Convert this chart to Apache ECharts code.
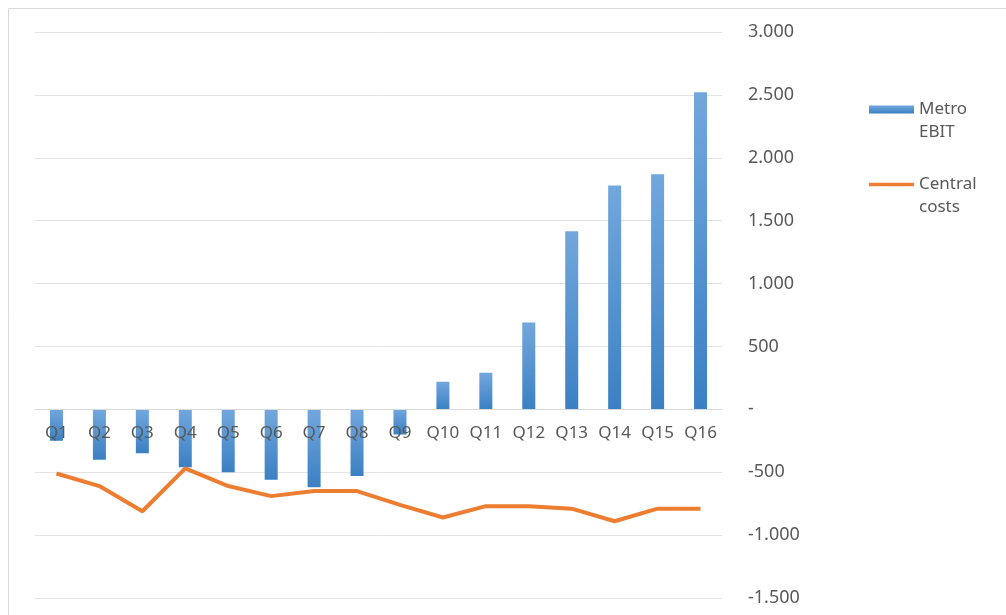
<!DOCTYPE html>
<html><head><meta charset="utf-8">
<script src="https://cdn.jsdelivr.net/npm/echarts@6/dist/echarts.min.js"></script>
<style>html,body{margin:0;padding:0;background:#fff}#c{width:1006px;height:615px}</style>
</head><body><div id="c"></div>
<script>
const categories = ['Q1','Q2','Q3','Q4','Q5','Q6','Q7','Q8','Q9','Q10','Q11','Q12','Q13','Q14','Q15','Q16'];
const metroEbit = [-250,-400,-350,-460,-500,-560,-620,-530,-200,220,290,690,1415,1780,1870,2520];
const centralCosts = [-510,-610,-810,-470,-610,-690,-650,-650,-760,-860,-770,-770,-790,-890,-790,-790];
const seriesNames = ['Metro EBIT','Central costs'];
const legendLabels = {'Metro EBIT':'\u00a0\nMetro\nEBIT','Central costs':'\u00a0\nCentral\ncosts'};
const Y_MIN = -1500, Y_MAX = 3000, Y_STEP = 500;

function fmt(v){
  if (v === 0) return '-';
  const s = Math.abs(v).toString().replace(/\B(?=(\d{3})+(?!\d))/g,'.');
  return (v<0?'-':'') + s;
}
const FONT = 'Noto Sans';
const chart = echarts.init(document.getElementById('c'));
chart.setOption({
  animation:false,
  graphic:[{type:'rect',shape:{x:8.5,y:8.5,width:1200,height:800},style:{fill:'none',stroke:'#d9d9d9',lineWidth:1},silent:true}],
  grid:{left:35,right:284,top:32,bottom:17,outerBoundsMode:'none',containLabel:false},
  legend:{
    orient:'vertical',left:869,top:75,padding:0,itemGap:6,itemWidth:45,itemHeight:8,
    formatter:n=>legendLabels[n],
    textStyle:{fontFamily:FONT,fontSize:17,color:'#595959',lineHeight:23},
    data:[{name:seriesNames[0],icon:'rect'},
          {name:seriesNames[1],icon:'path://M0,0 L0,0 M0,8 L0,8 M0,2.2 L45,2.2 L45,5.8 L0,5.8 Z'}]
  },
  xAxis:{type:'category',data:categories,z:5,position:'bottom',
    axisLine:{onZero:false,lineStyle:{color:'#d9d9d9'}},axisTick:{show:false},
    axisLabel:{interval:0,margin:15,fontFamily:FONT,fontSize:17,color:'#595959'}},
  yAxis:{type:'value',position:'right',min:Y_MIN,max:Y_MAX,interval:Y_STEP,
    axisLine:{show:false},axisTick:{show:false},
    splitLine:{lineStyle:{color:'#e3e3e3'}},
    axisLabel:{margin:26,align:'left',fontFamily:FONT,fontSize:18,color:'#595959',formatter:fmt}},
  series:[
    {name:seriesNames[0],type:'bar',data:metroEbit,barWidth:13,
     itemStyle:{color:new echarts.graphic.LinearGradient(0,0,0,1,[{offset:0,color:'#72a7dd'},{offset:1,color:'#3b80c3'}])}},
    {name:seriesNames[1],type:'line',data:centralCosts,symbol:'none',z:4,
     itemStyle:{color:'#ed7d31'},lineStyle:{color:'#ed7d31',width:4}}
  ]
});
// place the category axis on the zero line, using the library's own value scale
const zeroY = chart.convertToPixel({yAxisIndex:0}, 0);
const minY = chart.convertToPixel({yAxisIndex:0}, Y_MIN);
chart.setOption({xAxis:{offset: zeroY - minY}});
</script></body></html>
